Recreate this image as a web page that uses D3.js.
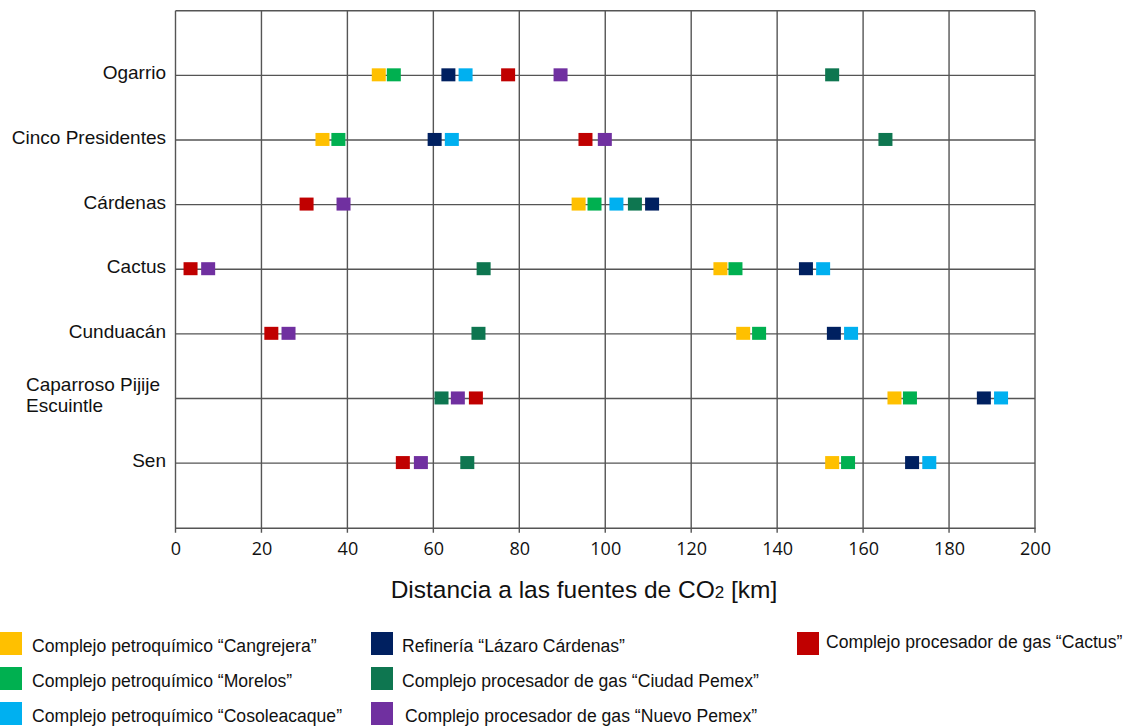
<!DOCTYPE html>
<html><head><meta charset="utf-8">
<script src="https://cdn.jsdelivr.net/npm/d3@7"></script>
<style>body{margin:0;background:#fff}svg{display:block}</style>
</head><body>
<script>
const categories = ["Ogarrio","Cinco Presidentes","Cárdenas","Cactus","Cunduacán","Caparroso Pijije Escuintle","Sen"];
const seriesNames = [
  "Complejo petroquímico “Cangrejera”",
  "Complejo petroquímico “Morelos”",
  "Complejo petroquímico “Cosoleacaque”",
  "Refinería “Lázaro Cárdenas”",
  "Complejo procesador de gas “Ciudad Pemex”",
  "Complejo procesador de gas “Nuevo Pemex”",
  "Complejo procesador de gas “Cactus”"
];
const seriesColors = ["#FFC000","#00B050","#00B0F0","#002060","#0E7650","#7030A0","#C00000"];
// distances in km, per category (order as categories)
const cangrejera   = [47.3, 34.2, 93.8, 126.8, 132.1, 167.3, 152.8];
const morelos      = [50.8, 37.9, 97.5, 130.3, 135.8, 170.9, 156.5];
const cosoleacaque = [67.5, 64.3, 102.6, 150.7, 157.2, 192.1, 175.4];
const lazaro       = [63.5, 60.3, 110.9, 146.7, 153.2, 188.1, 171.4];
const ciudadPemex  = [152.8, 165.2, 106.9, 71.7, 70.5, 61.9, 67.9];
const nuevoPemex   = [89.6, 99.9, 39.1, 7.6, 26.3, 65.7, 57.1];
const cactus       = [77.4, 95.4, 30.5, 3.5, 22.3, 69.9, 52.9];
const seriesValues = [cangrejera, morelos, cosoleacaque, lazaro, ciudadPemex, nuevoPemex, cactus];
const xTicks = [0,20,40,60,80,100,120,140,160,180,200];

const W = 1130, H = 726;
const svg = d3.select("body").append("svg").attr("width", W).attr("height", H);
const x = d3.scaleLinear().domain([0, 200]).range([175.5, 1035]);
const y = d3.scaleLinear().domain([0, categories.length + 1]).range([10.7, 527.7]);
const gridColor = "#555";

// vertical grid
svg.append("g").selectAll("line").data(xTicks).join("line")
  .attr("x1", d => x(d)).attr("x2", d => x(d))
  .attr("y1", y(0)).attr("y2", y(8) + 5)
  .attr("stroke", gridColor).attr("stroke-width", 1.4);
// top border
svg.append("line").attr("x1", x(0)).attr("x2", x(200)).attr("y1", y(0)).attr("y2", y(0))
  .attr("stroke", gridColor).attr("stroke-width", 1.4);
// row lines
svg.append("g").selectAll("line").data(categories).join("line")
  .attr("x1", x(0)).attr("x2", x(200))
  .attr("y1", (d, i) => y(i + 1)).attr("y2", (d, i) => y(i + 1))
  .attr("stroke", gridColor).attr("stroke-width", 1.4);

// x axis
const xAxis = svg.append("g").attr("transform", `translate(0,${y(8)})`)
  .call(d3.axisBottom(x).tickValues(xTicks).tickSize(0).tickPadding(15));
xAxis.select(".domain").attr("stroke", gridColor).attr("stroke-width", 1.6);
xAxis.selectAll("text").attr("font-family", "'Open Sans', sans-serif").attr("font-size", 18).attr("fill", "#111");

// row labels
const labG = svg.append("g").attr("font-family", "'Liberation Sans', Arial, sans-serif").attr("font-size", 19).attr("fill", "#111");
categories.forEach((c, i) => {
  const yy = y(i + 1);
  if (c === "Caparroso Pijije Escuintle") {
    const t = labG.append("text").attr("x", 26).attr("y", yy - 7);
    t.append("tspan").attr("x", 26).text("Caparroso Pijije");
    t.append("tspan").attr("x", 26).attr("dy", 21).text("Escuintle");
  } else {
    labG.append("text").attr("x", 166).attr("y", yy + 4).attr("text-anchor", "end").text(c);
  }
});

// markers
const mk = 14;
seriesValues.forEach((vals, s) => {
  svg.append("g").selectAll("rect").data(vals).join("rect")
    .attr("x", d => x(d) - mk / 2)
    .attr("y", (d, i) => y(i + 1) - mk / 2)
    .attr("width", mk).attr("height", mk - 1)
    .attr("fill", seriesColors[s]);
});

// axis title
const tt = svg.append("text").attr("x", 584).attr("y", 598).attr("text-anchor", "middle")
  .attr("font-family", "'Liberation Sans', Arial, sans-serif").attr("font-size", 24.5).attr("fill", "#111");
tt.append("tspan").text("Distancia a las fuentes de CO");
tt.append("tspan").attr("font-size", 17).text("2");
tt.append("tspan").text(" [km]");

// legend
const legPos = [[0,632],[0,667],[0,702],[371,632],[371,667],[371,702],[797,632]];
const legTextX = [32,32,32,402,402,405,826];
const lg = svg.append("g").attr("font-family", "'Liberation Sans', Arial, sans-serif").attr("font-size", 17.6).attr("fill", "#111");
seriesNames.forEach((n, i) => {
  const [lx, ly] = legPos[i];
  lg.append("rect").attr("x", lx).attr("y", ly).attr("width", 22).attr("height", 23).attr("fill", seriesColors[i]);
  lg.append("text").attr("x", legTextX[i]).attr("y", ly + (i === 6 ? 16 : 20)).text(n);
});
</script>
</body></html>
